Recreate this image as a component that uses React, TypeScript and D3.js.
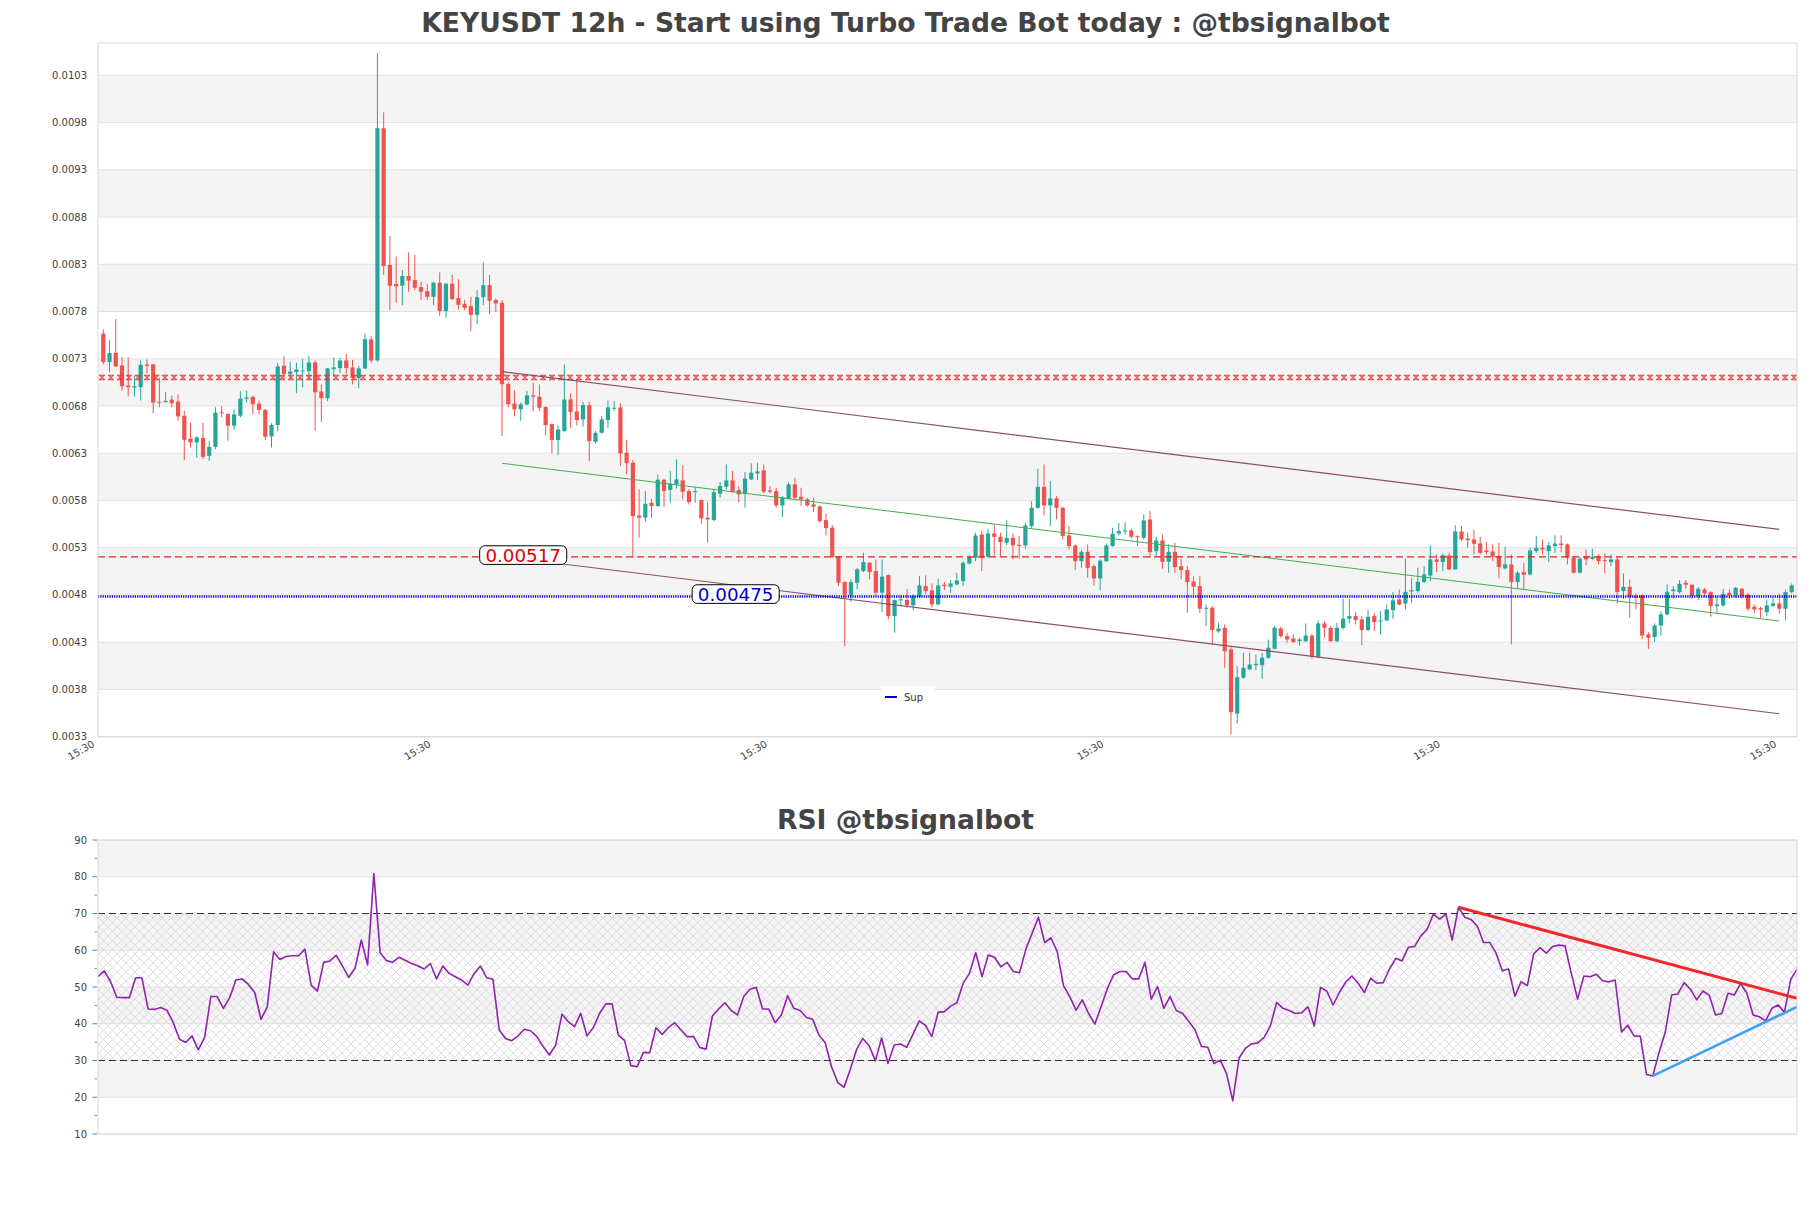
import React from 'react';
import * as d3 from 'd3';

const WIDTH = 1811;
const HEIGHT = 1208;

// ---- Candle data (KEYUSDT, 12h) ----
const opens = [
  0.007533, 0.007232, 0.007331, 0.007196, 0.006983, 0.006962, 0.006966, 0.007207, 0.007207, 0.006813,
  0.006806, 0.006834, 0.006813, 0.006664, 0.006420, 0.006381, 0.006430, 0.006239, 0.006334, 0.006700,
  0.006682, 0.006558, 0.006664, 0.006842, 0.006863, 0.006792, 0.006725, 0.006444, 0.006565, 0.007193,
  0.007107, 0.007125, 0.007136, 0.007136, 0.007228, 0.006920, 0.006849, 0.007157, 0.007168, 0.007249,
  0.007175, 0.007061, 0.007164, 0.007473, 0.007249, 0.009707, 0.008260, 0.008058, 0.008040, 0.008143,
  0.008100, 0.008026, 0.007983, 0.007923, 0.008072, 0.007771, 0.008061, 0.007909, 0.007845, 0.007824,
  0.007732, 0.007919, 0.008047, 0.007888, 0.007859, 0.007001, 0.006792, 0.006732, 0.006783, 0.006879,
  0.006865, 0.006755, 0.006575, 0.006406, 0.006501, 0.006836, 0.006709, 0.006625, 0.006776, 0.006388,
  0.006483, 0.006618, 0.006738, 0.006752, 0.006272, 0.006166, 0.005608, 0.005584, 0.005742, 0.005707,
  0.005986, 0.005877, 0.005937, 0.005979, 0.005866, 0.005855, 0.005771, 0.005584, 0.005559, 0.005838,
  0.005912, 0.005979, 0.005877, 0.005838, 0.005990, 0.006053, 0.006085, 0.005873, 0.005866, 0.005714,
  0.005785, 0.005937, 0.005806, 0.005778, 0.005725, 0.005704, 0.005559, 0.005478, 0.005171, 0.004902,
  0.004761, 0.004895, 0.005019, 0.005107, 0.005019, 0.004790, 0.004977, 0.004543, 0.004712, 0.004712,
  0.004656, 0.004747, 0.004860, 0.004814, 0.004666, 0.004874, 0.004852, 0.004877, 0.004912, 0.005099,
  0.005159, 0.005406, 0.005170, 0.005417, 0.005382, 0.005318, 0.005371, 0.005297, 0.005290, 0.005495,
  0.005689, 0.005911, 0.005714, 0.005788, 0.005689, 0.005396, 0.005290, 0.005124, 0.005223, 0.005071,
  0.004941, 0.005124, 0.005283, 0.005417, 0.005442, 0.005449, 0.005389, 0.005371, 0.005565, 0.005230,
  0.005343, 0.005117, 0.005223, 0.005071, 0.005029, 0.004909, 0.004860, 0.004620, 0.004630, 0.004380,
  0.004418, 0.004189, 0.003511, 0.003889, 0.003977, 0.004023, 0.004023, 0.004101, 0.004196, 0.004411,
  0.004330, 0.004305, 0.004277, 0.004277, 0.004337, 0.004111, 0.004464, 0.004418, 0.004277, 0.004415,
  0.004514, 0.004542, 0.004507, 0.004394, 0.004542, 0.004485, 0.004496, 0.004605, 0.004718, 0.004676,
  0.004803, 0.004807, 0.004902, 0.004972, 0.005142, 0.005114, 0.005184, 0.005036, 0.005438, 0.005364,
  0.005354, 0.005311, 0.005237, 0.005226, 0.005177, 0.005047, 0.005089, 0.004902, 0.005008, 0.004983,
  0.005230, 0.005265, 0.005230, 0.005283, 0.005311, 0.005301, 0.005159, 0.005001, 0.005170, 0.005149,
  0.005170, 0.005135, 0.005114, 0.005142, 0.004807, 0.004852, 0.004754, 0.004761, 0.004348, 0.004320,
  0.004443, 0.004560, 0.004807, 0.004796, 0.004895, 0.004874, 0.004754, 0.004824, 0.004796, 0.004648,
  0.004655, 0.004789, 0.004761, 0.004831, 0.004771, 0.004641, 0.004627, 0.004584, 0.004648, 0.004676,
  0.004620, 0.004796,
];

const closes = [
  0.007232, 0.007327, 0.007186, 0.006976, 0.006966, 0.006976, 0.007203, 0.007193, 0.006803, 0.006803,
  0.006820, 0.006796, 0.006657, 0.006409, 0.006381, 0.006434, 0.006228, 0.006334, 0.006696, 0.006689,
  0.006558, 0.006678, 0.006845, 0.006856, 0.006785, 0.006725, 0.006441, 0.006565, 0.007186, 0.007107,
  0.007132, 0.007154, 0.007143, 0.007228, 0.006912, 0.006849, 0.007164, 0.007175, 0.007249, 0.007168,
  0.007065, 0.007164, 0.007473, 0.007249, 0.009707, 0.008249, 0.008040, 0.008033, 0.008143, 0.008093,
  0.008019, 0.007976, 0.007923, 0.008072, 0.007771, 0.008061, 0.007898, 0.007838, 0.007806, 0.007732,
  0.007919, 0.008047, 0.007880, 0.007852, 0.006998, 0.006785, 0.006732, 0.006785, 0.006879, 0.006865,
  0.006748, 0.006565, 0.006406, 0.006519, 0.006836, 0.006702, 0.006618, 0.006776, 0.006395, 0.006483,
  0.006625, 0.006752, 0.006748, 0.006265, 0.006162, 0.005601, 0.005584, 0.005732, 0.005707, 0.005986,
  0.005866, 0.005944, 0.005990, 0.005859, 0.005749, 0.005866, 0.005577, 0.005566, 0.005855, 0.005919,
  0.005979, 0.005859, 0.005831, 0.005997, 0.006060, 0.006074, 0.005859, 0.005859, 0.005714, 0.005795,
  0.005937, 0.005795, 0.005778, 0.005714, 0.005700, 0.005548, 0.005474, 0.005167, 0.004895, 0.004768,
  0.004902, 0.005037, 0.005114, 0.005008, 0.004790, 0.004959, 0.004543, 0.004712, 0.004719, 0.004656,
  0.004754, 0.004867, 0.004807, 0.004666, 0.004867, 0.004860, 0.004888, 0.004919, 0.005106, 0.005170,
  0.005396, 0.005159, 0.005417, 0.005382, 0.005325, 0.005371, 0.005290, 0.005283, 0.005502, 0.005689,
  0.005911, 0.005714, 0.005788, 0.005689, 0.005389, 0.005283, 0.005124, 0.005223, 0.005054, 0.004941,
  0.005128, 0.005290, 0.005414, 0.005442, 0.005449, 0.005382, 0.005382, 0.005555, 0.005219, 0.005343,
  0.005117, 0.005223, 0.005061, 0.005029, 0.004902, 0.004852, 0.004620, 0.004630, 0.004394, 0.004411,
  0.004171, 0.003525, 0.003896, 0.003995, 0.004030, 0.004037, 0.004101, 0.004207, 0.004418, 0.004330,
  0.004295, 0.004267, 0.004295, 0.004337, 0.004111, 0.004464, 0.004418, 0.004277, 0.004418, 0.004514,
  0.004542, 0.004500, 0.004394, 0.004535, 0.004478, 0.004496, 0.004612, 0.004708, 0.004665, 0.004799,
  0.004817, 0.004905, 0.004983, 0.005142, 0.005117, 0.005184, 0.005036, 0.005438, 0.005354, 0.005346,
  0.005308, 0.005212, 0.005219, 0.005170, 0.005061, 0.005089, 0.004902, 0.005001, 0.004979, 0.005237,
  0.005265, 0.005248, 0.005290, 0.005311, 0.005294, 0.005159, 0.005001, 0.005149, 0.005142, 0.005170,
  0.005124, 0.005124, 0.005142, 0.004796, 0.004852, 0.004747, 0.004736, 0.004337, 0.004312, 0.004443,
  0.004560, 0.004800, 0.004824, 0.004884, 0.004874, 0.004754, 0.004831, 0.004782, 0.004648, 0.004665,
  0.004778, 0.004761, 0.004842, 0.004754, 0.004620, 0.004612, 0.004612, 0.004655, 0.004676, 0.004620,
  0.004796, 0.004867,
];

const highs = [
  0.007579, 0.007462, 0.007686, 0.007285, 0.007285, 0.007090, 0.007249, 0.007260, 0.007214, 0.007065,
  0.006912, 0.006877, 0.006888, 0.006718, 0.006590, 0.006448, 0.006590, 0.006398, 0.006753, 0.006764,
  0.006689, 0.006732, 0.006923, 0.006930, 0.006877, 0.006824, 0.006735, 0.006583, 0.007221, 0.007292,
  0.007232, 0.007225, 0.007267, 0.007299, 0.007249, 0.006994, 0.007171, 0.007281, 0.007278, 0.007320,
  0.007256, 0.007193, 0.007533, 0.007505, 0.010501, 0.009876, 0.008567, 0.008350, 0.008207, 0.008395,
  0.008366, 0.008083, 0.008058, 0.008083, 0.008182, 0.008072, 0.008154, 0.008107, 0.007888, 0.007923,
  0.007994, 0.008288, 0.008154, 0.007905, 0.007888, 0.007019, 0.006930, 0.006803, 0.006925, 0.007013,
  0.006995, 0.006766, 0.006582, 0.006561, 0.007207, 0.006900, 0.007055, 0.006808, 0.006808, 0.006501,
  0.006660, 0.006826, 0.006819, 0.006794, 0.006406, 0.006194, 0.005884, 0.005866, 0.005785, 0.006042,
  0.005996, 0.006078, 0.006201, 0.006138, 0.005884, 0.005912, 0.005778, 0.005753, 0.005884, 0.005961,
  0.006148, 0.006078, 0.005919, 0.006067, 0.006159, 0.006166, 0.006148, 0.005919, 0.005901, 0.005813,
  0.005961, 0.006007, 0.005901, 0.005795, 0.005795, 0.005714, 0.005629, 0.005506, 0.005178, 0.004913,
  0.004931, 0.005054, 0.005213, 0.005114, 0.005142, 0.005142, 0.004984, 0.004719, 0.004761, 0.004832,
  0.004772, 0.004966, 0.004973, 0.004888, 0.004938, 0.004903, 0.004923, 0.005001, 0.005124, 0.005184,
  0.005424, 0.005442, 0.005466, 0.005512, 0.005424, 0.005555, 0.005417, 0.005389, 0.005530, 0.005759,
  0.006102, 0.006148, 0.005971, 0.005812, 0.005699, 0.005495, 0.005301, 0.005240, 0.005301, 0.005089,
  0.005142, 0.005311, 0.005477, 0.005530, 0.005537, 0.005466, 0.005396, 0.005618, 0.005654, 0.005382,
  0.005406, 0.005301, 0.005318, 0.005149, 0.005071, 0.004965, 0.004965, 0.004665, 0.004648, 0.004471,
  0.004454, 0.004224, 0.004013, 0.004154, 0.004154, 0.004136, 0.004154, 0.004295, 0.004436, 0.004429,
  0.004365, 0.004348, 0.004312, 0.004464, 0.004348, 0.004496, 0.004489, 0.004436, 0.004471, 0.004725,
  0.004725, 0.004584, 0.004542, 0.004612, 0.004577, 0.004595, 0.004665, 0.004796, 0.004824, 0.005149,
  0.004948, 0.005054, 0.005071, 0.005290, 0.005195, 0.005205, 0.005212, 0.005502, 0.005495, 0.005424,
  0.005459, 0.005382, 0.005325, 0.005301, 0.005318, 0.005276, 0.005195, 0.005018, 0.005106, 0.005265,
  0.005389, 0.005354, 0.005325, 0.005396, 0.005396, 0.005311, 0.005170, 0.005170, 0.005248, 0.005255,
  0.005195, 0.005205, 0.005195, 0.005170, 0.004994, 0.004930, 0.004782, 0.004771, 0.004372, 0.004464,
  0.004595, 0.004877, 0.004859, 0.004923, 0.004923, 0.004877, 0.004852, 0.004842, 0.004807, 0.004754,
  0.004831, 0.004824, 0.004849, 0.004842, 0.004782, 0.004665, 0.004641, 0.004718, 0.004736, 0.004778,
  0.004824, 0.004888,
];

const lows = [
  0.007207, 0.007125, 0.007178, 0.006930, 0.006870, 0.006866, 0.006824, 0.007115, 0.006689, 0.006753,
  0.006806, 0.006753, 0.006611, 0.006193, 0.006327, 0.006221, 0.006203, 0.006186, 0.006310, 0.006646,
  0.006398, 0.006515, 0.006646, 0.006806, 0.006682, 0.006675, 0.006406, 0.006327, 0.006498, 0.007061,
  0.007054, 0.006905, 0.006966, 0.007044, 0.006505, 0.006600, 0.006817, 0.007072, 0.007115, 0.007107,
  0.006994, 0.006955, 0.007157, 0.007221, 0.007236, 0.008154, 0.007781, 0.007860, 0.007834, 0.007976,
  0.007994, 0.007888, 0.007888, 0.007834, 0.007721, 0.007700, 0.007888, 0.007788, 0.007781, 0.007561,
  0.007632, 0.007834, 0.007739, 0.007764, 0.006448, 0.006753, 0.006657, 0.006611, 0.006773, 0.006713,
  0.006713, 0.006459, 0.006265, 0.006247, 0.006494, 0.006536, 0.006561, 0.006547, 0.006184, 0.006371,
  0.006476, 0.006536, 0.006713, 0.006131, 0.006042, 0.005160, 0.005372, 0.005538, 0.005584, 0.005700,
  0.005700, 0.005742, 0.005891, 0.005778, 0.005725, 0.005742, 0.005520, 0.005319, 0.005548, 0.005795,
  0.005884, 0.005848, 0.005749, 0.005689, 0.005982, 0.005982, 0.005841, 0.005841, 0.005689, 0.005591,
  0.005778, 0.005778, 0.005707, 0.005700, 0.005644, 0.005531, 0.005397, 0.005160, 0.004860, 0.004225,
  0.004691, 0.004825, 0.005008, 0.004931, 0.004761, 0.004585, 0.004507, 0.004366, 0.004648, 0.004631,
  0.004606, 0.004737, 0.004772, 0.004631, 0.004656, 0.004818, 0.004789, 0.004867, 0.004860, 0.005089,
  0.005124, 0.005018, 0.005159, 0.005184, 0.005177, 0.005290, 0.005142, 0.005149, 0.005255, 0.005477,
  0.005678, 0.005608, 0.005495, 0.005565, 0.005354, 0.005248, 0.005029, 0.005054, 0.004948, 0.004867,
  0.004817, 0.005114, 0.005276, 0.005396, 0.005406, 0.005361, 0.005283, 0.005354, 0.005159, 0.005170,
  0.005043, 0.005001, 0.005001, 0.004930, 0.004577, 0.004761, 0.004577, 0.004436, 0.004242, 0.004366,
  0.003995, 0.003289, 0.003405, 0.003878, 0.003970, 0.003970, 0.003878, 0.004090, 0.004189, 0.004312,
  0.004260, 0.004260, 0.004231, 0.004267, 0.004090, 0.004101, 0.004312, 0.004267, 0.004267, 0.004401,
  0.004464, 0.004454, 0.004231, 0.004383, 0.004383, 0.004348, 0.004489, 0.004514, 0.004655, 0.004612,
  0.004683, 0.004789, 0.004895, 0.004912, 0.005007, 0.005018, 0.005029, 0.005036, 0.005336, 0.005265,
  0.005195, 0.005195, 0.005195, 0.005124, 0.004941, 0.005036, 0.004242, 0.004831, 0.004817, 0.004972,
  0.005212, 0.005195, 0.005114, 0.005212, 0.005219, 0.005089, 0.004994, 0.004994, 0.005082, 0.005135,
  0.005089, 0.004994, 0.005071, 0.004676, 0.004725, 0.004524, 0.004612, 0.004295, 0.004196, 0.004267,
  0.004337, 0.004549, 0.004725, 0.004782, 0.004831, 0.004725, 0.004711, 0.004747, 0.004535, 0.004577,
  0.004641, 0.004725, 0.004736, 0.004725, 0.004595, 0.004577, 0.004524, 0.004542, 0.004641, 0.004570,
  0.004499, 0.004782,
];

// ---- RSI values (one per candle) ----
const rsiValues = [
  52.8, 54.4, 51.5, 47.2, 47.1, 47.1, 52.5, 52.5, 44.0, 43.9,
  44.4, 43.7, 40.3, 35.8, 34.9, 36.7, 32.9, 36.2, 47.4, 47.4,
  44.2, 47.1, 51.9, 52.2, 50.7, 48.5, 41.2, 44.6, 59.6, 57.5,
  58.3, 58.5, 58.5, 60.3, 50.5, 48.9, 56.7, 57.1, 58.6, 55.7,
  52.6, 55.1, 62.8, 56.0, 80.9, 59.3, 57.2, 56.7, 58.1, 57.3,
  56.4, 55.8, 54.9, 56.4, 52.2, 55.7, 53.7, 52.8, 51.9, 50.5,
  53.7, 55.7, 52.5, 52.1, 38.3, 36.0, 35.4, 36.7, 38.5, 38.1,
  36.5, 33.8, 31.5, 34.2, 42.6, 40.6, 39.2, 42.8, 36.7, 38.9,
  42.8, 45.4, 45.4, 36.9, 35.4, 28.6, 28.3, 32.2, 32.1, 38.9,
  37.1, 39.0, 40.3, 38.3, 36.5, 36.5, 33.5, 33.1, 42.1, 44.0,
  45.7, 43.6, 42.4, 47.4, 49.4, 49.9, 44.0, 44.0, 40.3, 42.4,
  47.6, 44.2, 43.6, 41.7, 41.2, 36.9, 34.8, 28.3, 24.0, 22.7,
  27.6, 33.0, 36.0, 34.0, 29.9, 36.2, 29.2, 34.2, 34.5, 33.6,
  37.2, 40.8, 39.5, 36.5, 43.1, 43.3, 44.8, 45.7, 51.0, 53.7,
  59.4, 52.8, 58.7, 58.1, 55.5, 56.7, 54.2, 53.9, 60.3, 64.6,
  69.0, 62.1, 63.4, 59.6, 50.4, 47.4, 43.7, 46.5, 42.8, 39.9,
  44.6, 49.6, 53.3, 54.2, 54.2, 52.2, 52.2, 56.7, 46.7, 50.1,
  44.2, 47.4, 43.6, 42.8, 40.6, 38.3, 33.8, 33.6, 29.2, 30.1,
  26.5, 19.0, 30.6, 33.3, 34.5, 34.8, 36.3, 39.4, 45.8, 44.2,
  43.6, 42.8, 43.0, 44.6, 39.4, 49.9, 48.9, 45.1, 48.5, 51.3,
  53.0, 51.0, 48.5, 52.4, 51.0, 51.2, 54.9, 57.8, 57.1, 60.8,
  61.0, 63.9, 65.7, 69.8, 68.5, 69.8, 62.8, 71.7, 69.0, 68.4,
  66.6, 62.1, 62.1, 59.2, 54.4, 54.9, 47.5, 51.4, 50.4, 59.0,
  60.7, 59.2, 61.0, 61.4, 61.2, 53.7, 46.7, 53.0, 52.8, 53.5,
  51.7, 51.4, 51.9, 37.8, 39.6, 36.7, 36.6, 26.2, 25.8, 32.2,
  37.8, 47.8, 48.1, 51.2, 49.4, 46.5, 48.9, 47.8, 42.4, 42.8,
  48.3, 47.8, 51.0, 48.3, 42.4, 41.9, 40.8, 44.2, 45.1, 43.1,
  52.1, 54.8,
];

// ---- Axis ticks ----
const priceTicks = [
  0.003267, 0.003767, 0.004267, 0.004767, 0.005267, 0.005767, 0.006267, 0.006767,
  0.007267, 0.007767, 0.008267, 0.008767, 0.009267, 0.009767, 0.010267,
];
const timeTickIdx = [-1.3, 52.7, 106.7, 160.7, 214.7, 268.7];
const timeTickLabels = ['15:30', '15:30', '15:30', '15:30', '15:30', '15:30'];
const rsiTicks = [10, 20, 30, 40, 50, 60, 70, 80, 90];
const rsiMinorTicks = [15, 25, 35, 45, 55, 65, 75, 85];

// ---- Levels & trend lines (index, value) ----
const resistanceZone = [0.007045, 0.007092];
const levelRed = 0.00517;
const levelBlue = 0.00475;
const levelRedLabel = '0.00517';
const levelBlueLabel = '0.00475';
const levelRedLabelIdx = 67.4;
const levelBlueLabelIdx = 101.5;
const channelUpper: [number, number][] = [[64, 0.00713], [269, 0.005461]];
const channelLower: [number, number][] = [[64, 0.005173], [269, 0.003508]];
const channelMid: [number, number][] = [[64, 0.00616], [269, 0.00449]];
const rsiDownTrend: [number, number][] = [[217, 71.7], [271, 46.9]];
const rsiUpTrend: [number, number][] = [[248, 25.8], [271, 44.6]];

const FONT = 'DejaVu Sans';
const UP = '#26a69a';
const DOWN = '#ef5350';
const GRID = '#e2e2e2';
const BAND = '#f4f4f4';
const BORDER = '#d9d9d9';
const TXT = '#444444';

export default function App() {
  const M = { left: 98, right: 1797, top: 43, bottom: 737 };
  const R = { left: 98, right: 1797, top: 840, bottom: 1134 };
  const n = closes.length;

  const x = d3.scaleLinear().domain([-0.85, n - 1 + 0.85]).range([M.left, M.right]);
  const y = d3.scaleLinear().domain([0.003262, 0.01061]).range([M.bottom, M.top]);
  const xr = d3.scaleLinear().domain([0, n - 1]).range([R.left, R.right]);
  const yr = d3.scaleLinear().domain([10, 90]).range([R.bottom, R.top]);
  const fmt = d3.format('.4f');

  const rsiLine = d3
    .line<number>()
    .x((_, i) => xr(i))
    .y((d) => yr(d))(rsiValues) as string;

  const seg = (pts: [number, number][], sx: any, sy: any) =>
    d3.line<[number, number]>().x((d) => sx(d[0])).y((d) => sy(d[1]))(pts) as string;

  const bodyW = 4.2;
  const zoneTop = y(resistanceZone[1]);
  const zoneBot = y(resistanceZone[0]);
  const zoneH = zoneBot - zoneTop;

  const bands: [number, number][] = [];
  for (let k = 1; k < priceTicks.length - 1; k += 2) bands.push([priceTicks[k], priceTicks[k + 1]]);
  const rsiBands: [number, number][] = [[20, 30], [40, 50], [60, 70], [80, 90]];

  const label = (cx: number, cy: number, text: string, color: string) => (
    <g>
      <rect x={cx - 43.5} y={cy - 9.3} width={87} height={18.6} rx={5} ry={5} fill="#fff" stroke="#000" strokeWidth={1} />
      <text x={cx} y={cy + 6.6} textAnchor="middle" fontFamily={FONT} fontSize={18.3} fill={color}>
        {text}
      </text>
    </g>
  );

  return (
    <div style={{ position: 'absolute', left: 0, top: 0, width: WIDTH, height: HEIGHT, background: '#fff' }}>
      <svg width={WIDTH} height={HEIGHT} viewBox={`0 0 ${WIDTH} ${HEIGHT}`} style={{ display: 'block' }}>
        <defs>
          <pattern id="zoneHatch" patternUnits="userSpaceOnUse" x={M.left} y={zoneTop} width={9} height={zoneH}>
            <path d={`M1.5,0 L6.5,${zoneH} M6.5,0 L1.5,${zoneH}`} stroke="#e53935" strokeWidth={0.9} fill="none" />
          </pattern>
          <pattern id="rsiHatch" patternUnits="userSpaceOnUse" width={9} height={9}>
            <path d="M0,0 L9,9 M9,0 L0,9" stroke="#d3c4d8" strokeWidth={0.6} fill="none" />
          </pattern>
          <clipPath id="mainClip">
            <rect x={M.left} y={M.top} width={M.right - M.left} height={M.bottom - M.top} />
          </clipPath>
          <clipPath id="rsiClip">
            <rect x={R.left} y={R.top} width={R.right - R.left} height={R.bottom - R.top} />
          </clipPath>
        </defs>

        <rect x={0} y={0} width={WIDTH} height={HEIGHT} fill="#fff" />

        {/* ---------- Main chart ---------- */}
        <text x={905.5} y={32} textAnchor="middle" fontFamily={FONT} fontWeight="bold" fontSize={26.6} fill={TXT}>
          KEYUSDT 12h - Start using Turbo Trade Bot today : @tbsignalbot
        </text>

        {bands.map(([a, b], k) => (
          <rect key={'b' + k} x={M.left} y={y(b)} width={M.right - M.left} height={y(a) - y(b)} fill={BAND} />
        ))}
        {priceTicks.map((t, k) => (
          <line key={'g' + k} x1={M.left} x2={M.right} y1={y(t)} y2={y(t)} stroke={GRID} strokeWidth={1} />
        ))}
        {priceTicks.map((t, k) => (
          <text key={'yl' + k} x={87} y={y(t) + 3.6} textAnchor="end" fontFamily={FONT} fontSize={10} fill={TXT}>
            {fmt(t)}
          </text>
        ))}
        {timeTickIdx.map((t, k) => (
          <text
            key={'xl' + k}
            transform={`translate(${x(t)},${M.bottom + 9}) rotate(-30)`}
            textAnchor="end"
            fontFamily={FONT}
            fontSize={10}
            fill={TXT}
          >
            {timeTickLabels[k]}
          </text>
        ))}

        <g clipPath="url(#mainClip)">
          {/* candles */}
          {closes.map((c, i) => {
            const o = opens[i];
            const up = c >= o;
            const col = up ? UP : DOWN;
            const top = y(Math.max(o, c));
            const bot = y(Math.min(o, c));
            const cx = x(i);
            return (
              <g key={'c' + i}>
                <line x1={cx} x2={cx} y1={y(highs[i])} y2={y(lows[i])} stroke={col} strokeWidth={1} />
                <rect x={cx - bodyW / 2} y={top} width={bodyW} height={Math.max(1, bot - top)} fill={col} />
              </g>
            );
          })}

          {/* resistance zone */}
          <rect x={M.left} y={zoneTop} width={M.right - M.left} height={zoneH} fill="url(#zoneHatch)" />
          <line x1={M.left + 1} x2={M.right} y1={zoneTop} y2={zoneTop} stroke="#e53935" strokeWidth={1.1} strokeDasharray="6,3" />
          <line x1={M.left + 1} x2={M.right} y1={zoneBot} y2={zoneBot} stroke="#e53935" strokeWidth={1.1} strokeDasharray="6,3" />

          {/* trend channel */}
          <path d={seg(channelUpper, x, y)} stroke="#8a5068" strokeWidth={1.2} fill="none" />
          <path d={seg(channelLower, x, y)} stroke="#8a5068" strokeWidth={1.2} fill="none" />
          <path d={seg(channelMid, x, y)} stroke="#3fae55" strokeWidth={1} fill="none" />

          {/* horizontal levels */}
          <line x1={M.left} x2={M.right} y1={y(levelRed)} y2={y(levelRed)} stroke="#e02020" strokeWidth={1.2} strokeDasharray="7,4" />
          <line x1={M.left} x2={M.right} y1={y(levelBlue)} y2={y(levelBlue)} stroke="#0000d0" strokeWidth={2.6} strokeDasharray="1.2,1.1" />
        </g>

        {label(x(levelRedLabelIdx), y(levelRed) - 1.7, levelRedLabel, '#e00000')}
        {label(x(levelBlueLabelIdx), y(levelBlue) - 2.4, levelBlueLabel, '#0000d0')}

        {/* legend */}
        <rect x={881} y={686} width={54} height={20} fill="#fff" />
        <line x1={885} x2={897} y1={697} y2={697} stroke="#0000d0" strokeWidth={2} />
        <text x={904} y={700.5} fontFamily={FONT} fontSize={10} fill="#333">
          Sup
        </text>

        <rect x={M.left} y={M.top} width={M.right - M.left} height={M.bottom - M.top} fill="none" stroke={BORDER} strokeWidth={1} />

        {/* ---------- RSI chart ---------- */}
        <text x={905.5} y={829} textAnchor="middle" fontFamily={FONT} fontWeight="bold" fontSize={26.6} fill={TXT}>
          RSI @tbsignalbot
        </text>

        {rsiBands.map(([a, b], k) => (
          <rect key={'rb' + k} x={R.left} y={yr(b)} width={R.right - R.left} height={yr(a) - yr(b)} fill={BAND} />
        ))}
        {rsiTicks.map((t, k) => (
          <line key={'rg' + k} x1={R.left} x2={R.right} y1={yr(t)} y2={yr(t)} stroke={GRID} strokeWidth={1} />
        ))}
        <rect x={R.left} y={yr(70)} width={R.right - R.left} height={yr(30) - yr(70)} fill="url(#rsiHatch)" />
        {rsiTicks.map((t, k) => (
          <g key={'rt' + k}>
            <line x1={92.5} x2={97} y1={yr(t)} y2={yr(t)} stroke="#777" strokeWidth={1} />
            <text x={87} y={yr(t) + 3.6} textAnchor="end" fontFamily={FONT} fontSize={10} fill={TXT}>
              {t}
            </text>
          </g>
        ))}
        {rsiMinorTicks.map((t, k) => (
          <line key={'rm' + k} x1={94.5} x2={97} y1={yr(t)} y2={yr(t)} stroke="#888" strokeWidth={1} />
        ))}
        <line x1={R.left} x2={R.right} y1={yr(70)} y2={yr(70)} stroke="#333" strokeWidth={1.2} strokeDasharray="7,4" />
        <line x1={R.left} x2={R.right} y1={yr(30)} y2={yr(30)} stroke="#333" strokeWidth={1.2} strokeDasharray="7,4" />

        <g clipPath="url(#rsiClip)">
          <path d={rsiLine} stroke="#8e24aa" strokeWidth={1.6} fill="none" strokeLinejoin="round" />
          <path d={seg(rsiDownTrend, xr, yr)} stroke="#f02828" strokeWidth={3} fill="none" />
          <path d={seg(rsiUpTrend, xr, yr)} stroke="#42a0f0" strokeWidth={2.6} fill="none" />
        </g>

        <rect x={R.left} y={R.top} width={R.right - R.left} height={R.bottom - R.top} fill="none" stroke={BORDER} strokeWidth={1} />
      </svg>
    </div>
  );
}
